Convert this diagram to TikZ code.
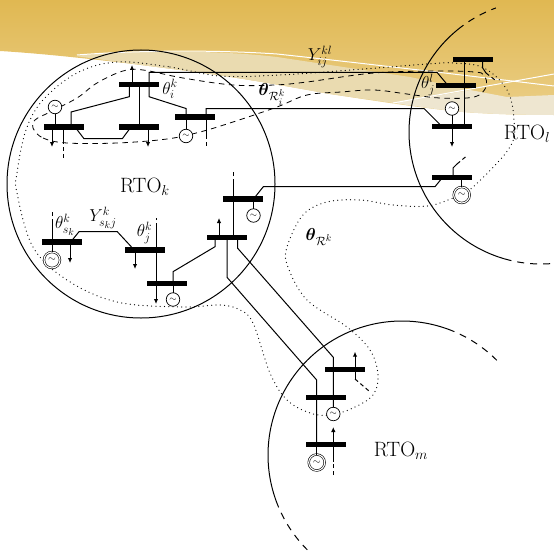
\documentclass[tikz,border=0pt]{standalone}
\usepackage{amsmath}
\usetikzlibrary{arrows.meta,calc}
\definecolor{goldA}{HTML}{E0B852}
\definecolor{goldB}{HTML}{EBCF88}
\definecolor{tanA}{HTML}{EADBB0}
\definecolor{paleA}{HTML}{EEE6D0}
\tikzset{
  bus/.style={rectangle,fill=black,inner sep=0pt,outer sep=0pt,minimum width=40pt,minimum height=5.5pt},
  gen/.style={circle,draw=black,line width=0.7pt,fill=white,inner sep=0pt,outer sep=0pt,minimum size=13.5pt,font=\fontsize{9}{9}\selectfont},
  gens/.style={circle,draw=black,line width=0.6pt,double,double distance=1.1pt,fill=white,inner sep=0pt,outer sep=0pt,minimum size=16pt,font=\fontsize{10}{10}\selectfont},
  ln/.style={line width=1pt,line join=miter},
  arr/.style={line width=1pt,-{Latex[length=5pt,width=4.5pt]}},
  stub/.style={line width=1pt,dash pattern=on 4pt off 3pt},
  rto/.style={line width=1pt},
  rtod/.style={line width=1pt,dash pattern=on 7pt off 6pt},
  dotb/.style={line width=1.25pt,line cap=round,dash pattern=on 0pt off 4.3pt},
  dashb/.style={line width=0.8pt,dash pattern=on 5.5pt off 4.5pt},
  lab/.style={inner sep=0pt,font=\fontsize{17.28}{20}\selectfont},
  big/.style={inner sep=0pt,font=\fontsize{20.74}{24}\selectfont},
  white line/.style={draw=white,line width=1pt}
}
\begin{document}
\begin{tikzpicture}[x=1pt,y=-1pt]
\useasboundingbox (0,0) rectangle (554,551);
% banner
\shade[top color=goldA,bottom color=goldB,shading angle=0]
  (0,0) -- (554,0) -- (554,115) .. controls (520,115) and (490,114) .. (463,112)
  .. controls (420,108) and (370,100) .. (330,94)
  .. controls (280,85) and (230,76) .. (180,70)
  .. controls (120,62) and (50,54) .. (0,51) -- cycle;
\fill[paleA] (393,103) -- (470,90) -- (507,97) -- (554,95) -- (554,115) .. controls (520,115) and (490,114) .. (463,112)
  .. controls (440,110) and (415,106) .. (393,103) -- cycle;
\fill[tanA] (75,56) .. controls (130,50) and (220,50) .. (277,57) -- (330,65) -- (410,77) -- (470,90) -- (393,103)
  .. controls (372,100) and (350,97) .. (330,94)
  .. controls (280,85) and (230,76) .. (180,70) .. controls (140,65) and (105,60) .. (75,56) -- cycle;
\path[white line] (77,55) .. controls (140,50) and (220,50) .. (277,54) .. controls (370,64) and (470,76) .. (554,86);
\path[white line] (393,103) -- (554,74);

% region boundaries
\draw[dotb] plot[smooth cycle,tension=0.6] coordinates {(117,62) (170,67) (220,76) (280,75) (377,68) (427,64) (454,63)
  (484,68) (507,90) (514,120) (510,147) (473,187) (453,198) (427,206) (393,205) (360,200) (327,202) (303,215) (287,247)
  (288,267) (307,300) (347,327) (370,350) (378,375) (373,395) (353,408) (330,415) (310,413) (287,400) (270,373) (253,323)
  (240,310) (220,305) (183,307) (117,302) (67,280) (33,247) (17,193) (17,173) (26,130) (43,100) (77,73)};
\draw[dashb] plot[smooth cycle,tension=0.6] coordinates {(33,128) (43,138) (67,143) (117,143) (167,139) (200,132) (233,122)
  (277,107) (307,95) (341,92) (374,90) (407,94) (440,98) (474,97) (486,87) (484,75) (474,72) (440,71) (374,73) (307,82)
  (274,85) (233,85) (183,78) (143,70) (123,71) (97,83) (77,98) (50,112) (35,120)};

% RTO circles
\node[circle,draw=black,line width=1pt,minimum size=268pt,inner sep=0pt,outer sep=0pt] (rtok) at (141,184) {};
\draw[rto] plot[smooth,samples=40,domain=106:231] ({541+132*cos(\x)},{132+132*sin(\x)});
\draw[rtod] plot[smooth,samples=12,domain=231:250] ({541+132*cos(\x)},{132+132*sin(\x)});
\draw[rtod] plot[smooth,samples=12,domain=106:84] ({541+132*cos(\x)},{132+132*sin(\x)});
\draw[rto] plot[smooth,samples=40,domain=160:290] ({402+134*cos(\x)},{455+134*sin(\x)});
\draw[rtod] plot[smooth,samples=12,domain=290:315] ({402+134*cos(\x)},{455+134*sin(\x)});
\draw[rtod] plot[smooth,samples=12,domain=160:135] ({402+134*cos(\x)},{455+134*sin(\x)});

% buses
\node[bus] (bi) at (139,84.5) {};
\node[bus] (ba) at (64,127) {};
\node[bus] (bb) at (139,127) {};
\node[bus] (bc) at (195,117) {};
\node[bus] (bla) at (473,59.5) {};
\node[bus] (blb) at (456,85.5) {};
\node[bus] (blc) at (452,126.5) {};
\node[bus] (bld) at (452,177.5) {};
\node[bus] (bs) at (62,242) {};
\node[bus] (bj) at (145,250) {};
\node[bus] (bn) at (167,283.5) {};
\node[bus] (bt) at (227,237.5) {};
\node[bus] (bu) at (243,199) {};
\node[bus] (bma) at (345,369.5) {};
\node[bus] (bmb) at (326,397.5) {};
\node[bus] (bmc) at (326,444.5) {};

% generators
\node[gen] (ga) at (55,107) {$\sim$};
\node[gen] (gc) at (186,136) {$\sim$};
\node[gen] (gl) at (452,108.5) {$\sim$};
\node[gens] (gld) at (461.7,195) {$\sim$};
\node[gens] (gs) at (52,260) {$\sim$};
\node[gen] (gn) at (173,299.5) {$\sim$};
\node[gen] (gu) at (253.5,215.5) {$\sim$};
\node[gen] (gm) at (333.3,414) {$\sim$};
\node[gens] (gmc) at (316.7,462.5) {$\sim$};

% generator ties
\draw[ln] (ga) -- ([xshift=-9pt]ba.center);
\draw[ln] (gc) -- ([xshift=-9pt]bc.center);
\draw[ln] (gl) -- (blc.center);
\draw[ln] (gld) -- ([xshift=9.7pt]bld.center);
\draw[ln] (gs) -- ([xshift=-10pt]bs.center);
\draw[ln] (gn) -- ([xshift=6pt]bn.center);
\draw[ln] (gu) -- ([xshift=10.5pt]bu.center);
\draw[ln] (gmc) -- ([xshift=-9.3pt]bmc.center);

% lines
\coordinate (p1) at (71,112);\coordinate (p2) at (129.3,96.7);
\draw[ln] ([xshift=7pt]ba.center) -- (p1) -- (p2) -- ([xshift=-9.7pt]bi.center);
\coordinate (p3) at (84,138.7);\coordinate (p4) at (122.3,138.7);
\draw[ln] ([xshift=11pt]ba.center) -- (p3) -- (p4) -- ([xshift=-8pt]bb.center);
\draw[ln] (bi.center) -- (bb.center);
\coordinate (p5) at (149,96.7);\coordinate (p6) at (186,108.5);
\draw[ln] ([xshift=10pt]bi.center) -- (p5) -- (p6) -- ([xshift=-9pt]bc.center);
\coordinate (p7) at (149,72.3);\coordinate (p8) at (437,72.3);
\draw[ln] ([xshift=10pt]bi.center) -- (p7) -- (p8) -- ([xshift=-8pt]blb.center);
\coordinate (p9) at (206,108.5);\coordinate (p10) at (424,108.5);
\draw[ln] ([xshift=11pt]bc.center) -- (p9) -- (p10) -- ([xshift=-10pt]blc.center);
\draw[ln] ([xshift=-8.7pt]bla.center) -- ([xshift=12.3pt]blc.center);
\coordinate (p11) at (435,186.7);\coordinate (p12) at (263.3,186.7);
\draw[ln] ([xshift=-9.5pt]bld.center) -- (p11) -- (p12) -- ([xshift=10.5pt]bu.center);
\coordinate (p13) at (79,231.7);\coordinate (p14) at (117.3,231.7);
\draw[ln] ([xshift=8.7pt]bs.center) -- (p13) -- (p14) -- ([xshift=-10.7pt]bj.center);
\coordinate (p15) at (173,271.7);\coordinate (p16) at (215,246.7);
\draw[ln] ([xshift=6pt]bn.center) -- (p15) -- (p16) -- ([xshift=-12pt]bt.center);
\draw[ln] ([xshift=6.3pt]bt.center) -- ([xshift=-9.7pt]bu.center);
\coordinate (p17) at (227,277.3);\coordinate (p18) at (316.7,380);
\draw[ln] (bt.center) -- (p17) -- (p18) -- ([xshift=-9.3pt]bmc.center);
\coordinate (p19) at (237.7,248.3);\coordinate (p20) at (333.3,357.3);
\draw[ln] ([xshift=10.7pt]bt.center) -- (p19) -- (p20) -- (gm);

% loads
\coordinate (a1) at (52,147);\draw[arr] ([xshift=-12pt]ba.center) -- (a1);
\coordinate (a2) at (132,65);\draw[arr] ([xshift=-7pt]bi.center) -- (a2);
\coordinate (a3) at (148,147);\draw[arr] ([xshift=9pt]bb.center) -- (a3);
\coordinate (a4) at (452,147);\draw[arr] (blc.center) -- (a4);
\coordinate (a5) at (70,263);\draw[arr] ([xshift=8pt]bs.center) -- (a5);
\coordinate (a6) at (135,269);\draw[arr] ([xshift=-10pt]bj.center) -- (a6);
\coordinate (a7) at (156,304);\draw[arr] ([xshift=-11pt]bn.center) -- (a7);
\coordinate (a8) at (219,218);\draw[arr] ([xshift=-8pt]bt.center) -- (a8);
\coordinate (a9) at (355,351.7);\draw[arr] ([xshift=10pt]bma.center) -- (a9);
\coordinate (a10) at (333.3,475);\coordinate (a11) at (333.3,462);\coordinate (a12) at (333.3,427);
\draw[stub] (a10) -- (a11);\draw[arr] (a11) -- (a12);

% stubs
\coordinate (s1) at (63,140);\coordinate (s2) at (63,159);
\draw[ln] ([xshift=-1pt]ba.center) -- (s1);\draw[stub] (s1) -- (s2);
\coordinate (s3) at (206,135);\coordinate (s4) at (206,148);
\draw[ln] ([xshift=11pt]bc.center) -- (s3);\draw[stub] (s3) -- (s4);
\coordinate (s5) at (482.7,68);\coordinate (s6) at (486,73);\coordinate (s7) at (495,80);
\draw[ln] ([xshift=9.7pt]bla.center) -- (s5) -- (s6);\draw[stub] (s6) -- (s7);
\coordinate (s8) at (453,168);\coordinate (s9) at (457,164);\coordinate (s10) at (466,156.5);
\draw[ln] ([xshift=1pt]bld.center) -- (s8) -- (s9);\draw[stub] (s9) -- (s10);
\coordinate (s11) at (52,223);\coordinate (s12) at (52,210);
\draw[ln] ([xshift=-10pt]bs.center) -- (s11);\draw[stub] (s11) -- (s12);
\coordinate (s13) at (156,227);\coordinate (s14) at (156,218);
\draw[ln] ([xshift=11pt]bj.center) -- (s13);\draw[stub] (s13) -- (s14);
\draw[ln] ([xshift=11pt]bj.center) -- ([xshift=-11pt]bn.center);
\coordinate (s15) at (233.3,183);\coordinate (s16) at (233.3,170);
\draw[ln] ([xshift=-9.7pt]bu.center) -- (s15);\draw[stub] (s15) -- (s16);
\coordinate (s17) at (355,379);\coordinate (s18) at (369,391);
\draw[ln] ([xshift=10pt]bma.center) -- (s17);\draw[stub] (s17) -- (s18);

% labels
\node[big] (l1) at (145,186.5) {RTO$_k$};
\node[big] (l2) at (527,133.5) {RTO$_l$};
\node[big] (l3) at (401,451) {RTO$_m$};
\node[lab] (t1) at (320,57) {$Y_{ij}^{kl}$};
\node[lab] (t2) at (170,89) {$\theta_i^k$};
\node[lab] (t3) at (272,94.5) {$\boldsymbol{\theta}_{\mathcal{R}^k_i}$};
\node[lab] (t4) at (428,85) {$\theta_j^l$};
\node[lab] (t5) at (65,225) {$\theta_{s_k}^k$};
\node[lab] (t6) at (103,218) {$Y_{s_kj}^k$};
\node[lab] (t7) at (144.5,233) {$\theta_j^k$};
\node[lab] (t8) at (319,237) {$\boldsymbol{\theta}_{\mathcal{R}^k}$};
\end{tikzpicture}
\end{document}
